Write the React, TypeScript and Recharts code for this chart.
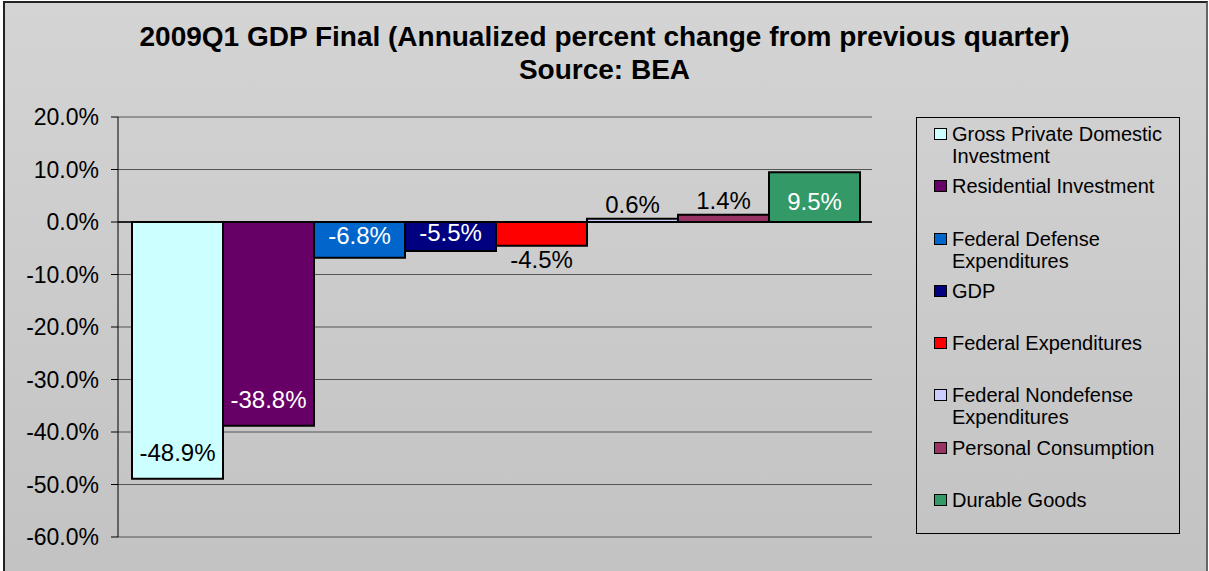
import React from "react";
import {
  BarChart,
  Bar,
  XAxis,
  YAxis,
  CartesianGrid,
  ReferenceLine,
  LabelList,
} from "recharts";

const categories = ["2009Q1"];

const seriesNames = [
  "Gross Private Domestic Investment",
  "Residential Investment",
  "Federal Defense Expenditures",
  "GDP",
  "Federal Expenditures",
  "Federal Nondefense Expenditures",
  "Personal Consumption",
  "Durable Goods",
];

const seriesValues = [-48.9, -38.8, -6.8, -5.5, -4.5, 0.6, 1.4, 9.5];

const yTicks = [20, 10, 0, -10, -20, -30, -40, -50, -60];

// excel style palette + where each data label sits
const colors = ["#CCFFFF", "#660066", "#0066CC", "#000080", "#FF0000", "#CCCCFF", "#993366", "#339966"];
const labelColors = ["#000", "#fff", "#fff", "#fff", "#000", "#000", "#000", "#fff"];
const labelPlaces = ["inside", "inside", "middle", "middle", "outside", "outside", "outside", "middle"];

const FONT = "'Liberation Sans', Arial, sans-serif";

const data = categories.map((name) => {
  const row: { [key: string]: number | string } = { name };
  seriesValues.forEach((v, i) => {
    row["s" + i] = v;
  });
  return row;
});

const makeLabel = (place: string, color: string) => (props: any) => {
  const { x, y, width, height, value } = props;
  const top = Math.min(y, y + height);
  const bottom = Math.max(y, y + height);
  const neg = value < 0;
  const end = neg ? bottom : top;
  const toZero = neg ? -1 : 1;
  let cy;
  if (place === "inside") cy = end + toZero * 26;
  else if (place === "outside") cy = end - toZero * 14;
  else cy = (top + bottom) / 2 + toZero * 4;
  return (
    <text
      x={x + width / 2}
      y={cy}
      dy="0.36em"
      textAnchor="middle"
      fill={color}
      fontSize={24}
      fontFamily={FONT}
    >
      {Number(value).toFixed(1) + "%"}
    </text>
  );
};

function LegendBox() {
  return (
    <div
      style={{
        position: "absolute",
        left: 916,
        top: 117,
        width: 264,
        height: 417,
        border: "1.5px solid #000",
        paddingTop: 5,
        boxSizing: "border-box",
        fontFamily: FONT,
        fontSize: 20,
        lineHeight: "22px",
        color: "#000",
      }}
    >
      {seriesNames.map((n, i) => (
        <div key={i} style={{ height: 52.3, display: "flex", alignItems: "flex-start" }}>
          <div
            style={{
              width: 13,
              height: 12,
              marginLeft: 17,
              marginTop: 5,
              marginRight: 5,
              background: colors[i],
              border: "1.5px solid #000",
              boxSizing: "border-box",
              flexShrink: 0,
            }}
          />
          <div style={{ width: 215 }}>{n}</div>
        </div>
      ))}
    </div>
  );
}

export default function App() {
  return (
    <div style={{ position: "fixed", left: 0, top: 0, width: 1209, height: 571, overflow: "hidden", background: "#fff" }}>
      <div
        style={{
          position: "absolute",
          left: 3,
          top: 1,
          width: 1205,
          height: 620,
          boxSizing: "border-box",
          borderLeft: "2px solid #222",
          borderTop: "2px solid #222",
          borderRight: "2px solid #666",
          background: "linear-gradient(#d4d4d4, #c2c2c2 95%)",
        }}
      />
      <div
        style={{
          position: "absolute",
          left: 0,
          top: 20,
          width: 1209,
          textAlign: "center",
          fontFamily: FONT,
          fontWeight: "bold",
          fontSize: 28,
          lineHeight: "33px",
          color: "#000",
        }}
      >
        <div>2009Q1 GDP Final (Annualized percent change from previous quarter)</div>
        <div>Source: BEA</div>
      </div>
      <div style={{ position: "absolute", left: 0, top: 0 }}>
        <BarChart
          width={1209}
          height={571}
          data={data}
          margin={{ top: 117, right: 337, bottom: 34, left: 8 }}
          barCategoryGap={14}
          barGap={0}
        >
          <CartesianGrid vertical={false} stroke="#555" strokeWidth={1} />
          <XAxis
            dataKey="name"
            tick={false}
            tickLine={false}
            height={0}
            axisLine={{ stroke: "#888", strokeWidth: 2 }}
          />
          <YAxis
            domain={[-60, 20]}
            ticks={yTicks}
            interval={0}
            width={110}
            tickSize={7}
            tickMargin={12}
            tickFormatter={(v: number) => v.toFixed(1) + "%"}
            tick={{ fill: "#000", fontSize: 23, fontFamily: FONT }}
            axisLine={{ stroke: "#000", strokeWidth: 1 }}
            tickLine={{ stroke: "#000" }}
          />
          <YAxis
            yAxisId="right"
            orientation="right"
            domain={[-60, 20]}
            width={0}
            tick={false}
            tickLine={false}
            axisLine={{ stroke: "#888", strokeWidth: 2 }}
          />
          {seriesNames.map((n, i) => (
            <Bar
              key={i}
              dataKey={"s" + i}
              name={n}
              fill={colors[i]}
              stroke="#000"
              strokeWidth={2}
              isAnimationActive={false}
            >
              <LabelList dataKey={"s" + i} content={makeLabel(labelPlaces[i], labelColors[i])} />
            </Bar>
          ))}
          <ReferenceLine y={0} stroke="#000" strokeWidth={1.5} />
        </BarChart>
      </div>
      <LegendBox />
    </div>
  );
}
